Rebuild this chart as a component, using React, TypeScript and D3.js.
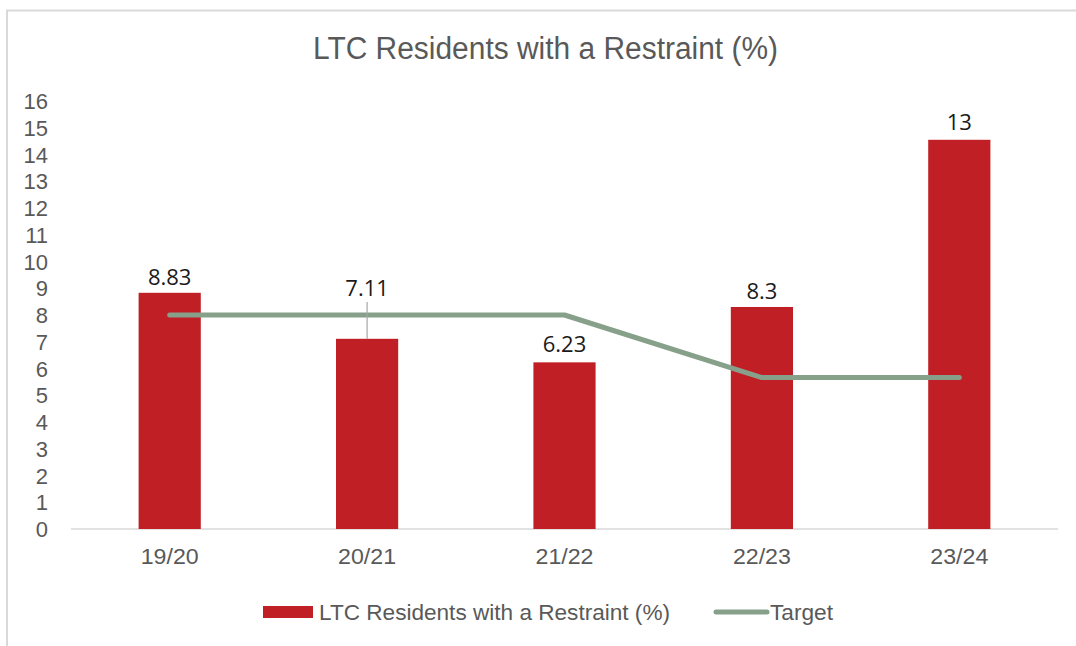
import React from "react";
import * as d3 from "d3";

const categories = ["19/20", "20/21", "21/22", "22/23", "23/24"];
const barValues = [8.83, 7.11, 6.23, 8.3, 14.55];
const barLabels = ["8.83", "7.11", "6.23", "8.3", "13"];
const targetValues = [8, 8, 8, 5.66, 5.66];
const yTicks = d3.range(0, 17);
const title = "LTC Residents with a Restraint (%)";
const seriesName = "LTC Residents with a Restraint (%)";
const targetName = "Target";

const W = 1076;
const H = 646;
const plot = { left: 71, right: 1058, top: 101, bottom: 529 };
const RED = "#C11F26";
const GREEN = "#87A08A";
const GRAY = "#595959";
const FONT = "'Liberation Sans', Arial, sans-serif";
const LABEL_FONT = "'Open Sans', 'Noto Sans', sans-serif";

export default function App() {
  const x = d3.scaleBand<string>().domain(categories).range([plot.left, plot.right]).padding(0);
  const y = d3.scaleLinear().domain([0, 16]).range([plot.bottom, plot.top]);
  const barW = x.bandwidth() * 0.315;
  const cx = (c: string) => (x(c) as number) + x.bandwidth() / 2;
  const line = d3
    .line<number>()
    .x((_, i) => cx(categories[i]))
    .y((d) => y(d));

  return (
    <svg width={W} height={H} style={{ position: "absolute", left: 0, top: 0, background: "#fff" }}>
      <rect x={7} y={10.5} width={W + 10} height={H + 10} fill="#fff" stroke="#d9d9d9" strokeWidth={2} />
      <text x={545.5} y={59} textAnchor="middle" fontFamily={FONT} fontSize={31} fill={GRAY} textLength={465} lengthAdjust="spacingAndGlyphs">
        {title}
      </text>
      {yTicks.map((t) => (
        <text key={t} x={48} y={y(t) + 8} textAnchor="end" fontFamily={FONT} fontSize={22} fill={GRAY}>
          {t}
        </text>
      ))}
      <line x1={plot.left} x2={plot.right} y1={plot.bottom} y2={plot.bottom} stroke="#d9d9d9" strokeWidth={1.5} />
      {categories.map((c, i) => (
        <rect key={c} x={cx(c) - barW / 2} y={y(barValues[i])} width={barW} height={plot.bottom - y(barValues[i])} fill={RED} />
      ))}
      <path d={line(targetValues) || ""} fill="none" stroke={GREEN} strokeWidth={5} strokeLinecap="round" strokeLinejoin="round" />
      {/* leader line for 20/21 label */}
      <line x1={cx(categories[1])} x2={cx(categories[1])} y1={y(barValues[1])} y2={302} stroke="#a6a6a6" strokeWidth={1.2} />
      {categories.map((c, i) => {
        const offs = [8, 43, 10, 8, 10];
        return (
          <text key={c} x={cx(c)} y={y(barValues[i]) - offs[i]} textAnchor="middle" fontFamily={LABEL_FONT} fontSize={22} fill="#1a1a1a">
            {barLabels[i]}
          </text>
        );
      })}
      {categories.map((c) => (
        <text key={c} x={cx(c)} y={564} textAnchor="middle" fontFamily={FONT} fontSize={22} fill={GRAY} textLength={58} lengthAdjust="spacingAndGlyphs">
          {c}
        </text>
      ))}
      <rect x={263} y={606} width={50} height={12} fill={RED} />
      <text x={319} y={620} fontFamily={FONT} fontSize={22} fill={GRAY} textLength={351} lengthAdjust="spacingAndGlyphs">
        {seriesName}
      </text>
      <line x1={716} x2={767} y1={612} y2={612} stroke={GREEN} strokeWidth={5} strokeLinecap="round" />
      <text x={770} y={620} fontFamily={FONT} fontSize={22} fill={GRAY} textLength={63} lengthAdjust="spacingAndGlyphs">
        {targetName}
      </text>
    </svg>
  );
}
